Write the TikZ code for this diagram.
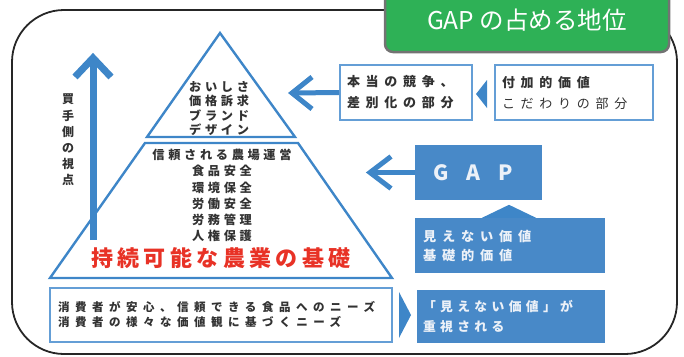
\documentclass[tikz,border=0pt]{standalone}
\usepackage{fontspec}
\usetikzlibrary{calc}
\setmainfont{Noto Sans CJK JP}
\newfontfamily\jpp[LetterSpace=30]{Noto Sans CJK JP}
\newfontfamily\jpw[LetterSpace=44]{Noto Sans CJK JP}
\newfontfamily\jpv[LetterSpace=34]{Noto Sans CJK JP}
\newfontfamily\jpwb[LetterSpace=48]{Noto Sans CJK JP}
\newfontfamily\jpred[LetterSpace=20]{Noto Sans CJK JP}
\newfontfamily\jpgap[LetterSpace=88]{Noto Sans CJK JP}
\newfontfamily\jpt{Noto Sans CJK JP}
\definecolor{pblue}{RGB}{62,134,200}
\definecolor{fblue}{RGB}{72,137,200}
\definecolor{lblue}{RGB}{100,158,214}
\definecolor{tgray}{RGB}{50,50,50}
\definecolor{tgreen}{RGB}{46,177,86}
\definecolor{tred}{RGB}{232,50,38}
\definecolor{boxtxt}{RGB}{236,241,248}
\tikzset{
  tbox/.style={draw=lblue, line width=2pt, fill=white, inner xsep=7pt, inner ysep=0pt, align=left, text=tgray},
  fbox/.style={fill=fblue, inner xsep=8pt, inner ysep=0pt, align=left, text=boxtxt},
  pyr/.style={draw=pblue, line width=2.4pt, line join=miter},
  shaft/.style={draw=pblue, line cap=butt, line join=miter},
  tri/.style={fill=pblue},
  ptxt/.style={text=tgray, inner sep=0pt, font=\jpp\bfseries\fontsize{12.2}{14.5}\selectfont},
}
\begin{document}
\begin{tikzpicture}[x=1pt,y=-1pt]
\useasboundingbox (0,0) rectangle (684,356);
% outer frame
\draw[line width=1.8pt, black!85, rounded corners=52pt] (12,10) rectangle (677,354);
% title
\node[fill=tgreen, draw=black!55, line width=2.5pt, rounded corners=8pt, minimum width=284pt, minimum height=64pt, text=white, font=\jpt\fontsize{24.5}{26}\selectfont] (title) at (527,20) {GAP の占める地位};
% up arrow
\coordinate (upbase) at (93,240);
\coordinate (uptip) at (93,58);
\draw[shaft, line width=7pt] (upbase) -- (uptip);
\draw[shaft, line width=7pt] ($(uptip)+(-18,19)$) -- (uptip) -- ($(uptip)+(18,19)$);
\node[ptxt, align=center, font=\jpt\bfseries\fontsize{12}{16.2}\selectfont] (view) at (68,140) {買\\手\\側\\の\\視\\点};
% pyramid
\draw[pyr] (220,33) -- (295,137) -- (147,137) -- cycle;
\draw[pyr] (145,143) -- (298,143) -- (392,278) -- (50,278) -- cycle;
\node[ptxt, anchor=west, align=left] (top) at (189,108.5) {おいしさ\\価格訴求\\ブランド\\デザイン};
\node[ptxt, align=center, font=\jpp\bfseries\fontsize{12.2}{16.2}\selectfont] (mid) at (222,195.5) {信頼される農場運営\\食品安全\\環境保全\\労働安全\\労務管理\\人権保護};
\node[text=tred, inner sep=0pt, font=\jpred\bfseries\fontsize{22}{24}\selectfont] (base) at (221,258) {持続可能な農業の基礎};
% bottom box
\node[tbox, minimum width=342pt, minimum height=54pt, text width=326pt, inner xsep=8pt, font=\jpwb\bfseries\fontsize{11.5}{15}\selectfont] (needs) at (221,315) {消費者が安心、信頼できる食品へのニーズ\\消費者の様々な価値観に基づくニーズ};
% top right boxes
\node[tbox, minimum width=132pt, minimum height=55pt, text width=118pt, font=\jpw\bfseries\fontsize{13}{21}\selectfont] (comp) at (406,92.5) {本当の競争、\\差別化の部分};
\node[tbox, minimum width=158pt, minimum height=55pt, text width=144pt, font=\jpw\fontsize{13}{21}\selectfont] (add) at (574,92.5) {\textbf{付加的価値}\\こだわりの部分};
% GAP and blue boxes
\node[fbox, minimum width=127pt, minimum height=55pt, text width=97pt, inner xsep=15pt, font=\jpgap\bfseries\fontsize{21}{22}\selectfont] (gap) at (478.5,172.5) {\hspace*{3pt}GAP};
\node[fbox, minimum width=190pt, minimum height=55pt, text width=174pt, font=\jpw\bfseries\fontsize{13.2}{19}\selectfont] (unseen) at (510,245.5) {見えない価値\\基礎的価値};
\node[fbox, minimum width=188pt, minimum height=53pt, text width=176pt, inner xsep=6pt, font=\jpv\bfseries\fontsize{12.8}{20}\selectfont] (value) at (511,316.5) {「見えない価値」が\\重視される};
% connectors
\coordinate (t1) at (292,93);
\draw[shaft, line width=5pt] (comp.west) -- (t1);
\draw[shaft, line width=5pt] ($(t1)+(20,-16)$) -- (t1) -- ($(t1)+(20,16)$);
\coordinate (t2) at (370,172.5);
\draw[shaft, line width=5pt] (gap.west) -- (t2);
\draw[shaft, line width=5pt] ($(t2)+(21,-16)$) -- (t2) -- ($(t2)+(21,16)$);
\fill[tri] (add.west) ++(-18,1.5) -- ++(11,-14) -- ++(0,28) -- cycle;
\fill[tri] (unseen.north) ++(-1,-13) -- ++(27,13) -- ++(-54,0) -- cycle;
\fill[tri] (needs.east) ++(18,0) -- ++(-12,-23) -- ++(0,46) -- cycle;
\end{tikzpicture}
\end{document}
